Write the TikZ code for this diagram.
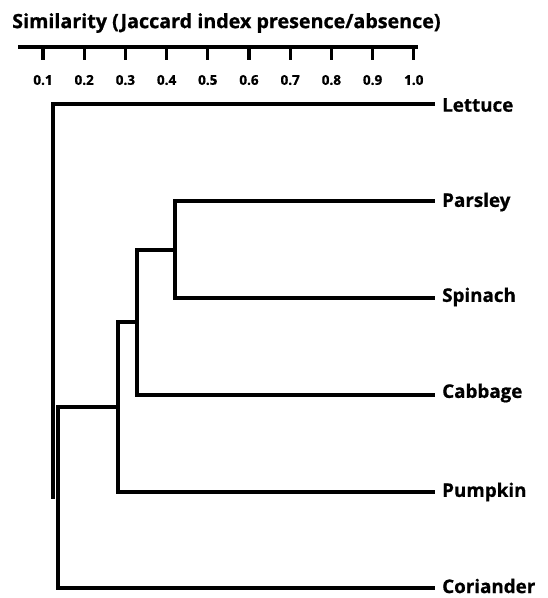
\documentclass[tikz,border=0pt]{standalone}
\usepackage{fontspec}
\setmainfont{Open Sans}[BoldFeatures={FakeBold=0.8}]
\begin{document}
\begin{tikzpicture}[x=1pt,y=-1pt,
  branch/.style={line width=3.2pt,line cap=rect},
  leaf/.style={anchor=west,inner sep=0pt,font=\bfseries\fontsize{18.8}{20}\selectfont},
  ticklab/.style={inner sep=0pt,font=\bfseries\fontsize{13.5}{15}\selectfont},
  axistick/.style={line width=3.2pt}]
\useasboundingbox (0,0) rectangle (548,598);
% title and similarity axis
\node[anchor=west,inner sep=0pt,font=\bfseries\fontsize{19.7}{21}\selectfont] (title) at (12,23) {Similarity (Jaccard index presence/absence)};
\coordinate (axL) at (18,47);
\coordinate (axR) at (418,47);
\draw[branch,line cap=butt] (axL) -- (axR);
\foreach \v [count=\i] in {0.1,0.2,0.3,0.4,0.5,0.6,0.7,0.8,0.9,1.0}{
  \pgfmathsetmacro{\xx}{43+(\i-1)*41.2}
  \coordinate (t\i) at (\xx,47);
  \coordinate (tb\i) at (\xx,60);
  \draw[axistick] (t\i) -- (tb\i);
  \node[ticklab] (tl\i) at (\xx,80) {\v};
}
% leaf labels
\node[leaf] (lettuce) at (442,105) {Lettuce};
\node[leaf] (parsley) at (442,202) {Parsley};
\node[leaf] (spinach) at (442,297) {Spinach};
\node[leaf] (cabbage) at (442,393) {Cabbage};
\node[leaf] (pumpkin) at (442,492) {Pumpkin};
\node[leaf] (coriander) at (442,586) {Coriander};
% leaf line ends
\coordinate (eLet) at (433,104);
\coordinate (ePar) at (433,201);
\coordinate (eSpi) at (433,298);
\coordinate (eCab) at (433,395);
\coordinate (ePum) at (433,492);
\coordinate (eCor) at (433,588);
% joins
\coordinate (jPS1) at (175,201);
\coordinate (jPS2) at (175,298);
\coordinate (jC1) at (137,250);
\coordinate (jC2) at (137,395);
\coordinate (jP1) at (118,322);
\coordinate (jP2) at (118,492);
\coordinate (jR1) at (58,407);
\coordinate (jR2) at (58,588);
\coordinate (jT1) at (53,104);
\coordinate (jT2) at (53,497);
% dendrogram branches
\draw[branch] (eLet) -- (jT1) -- (jT2);
\draw[branch] (ePar) -- (jPS1) -- (jPS2) -- (eSpi);
\draw[branch] (jPS1 |- jC1) -- (jC1) -- (jC2) -- (eCab);
\draw[branch] (jC1 |- jP1) -- (jP1) -- (jP2) -- (ePum);
\draw[branch] (jP1 |- jR1) -- (jR1) -- (jR2) -- (eCor);
\end{tikzpicture}
\end{document}
